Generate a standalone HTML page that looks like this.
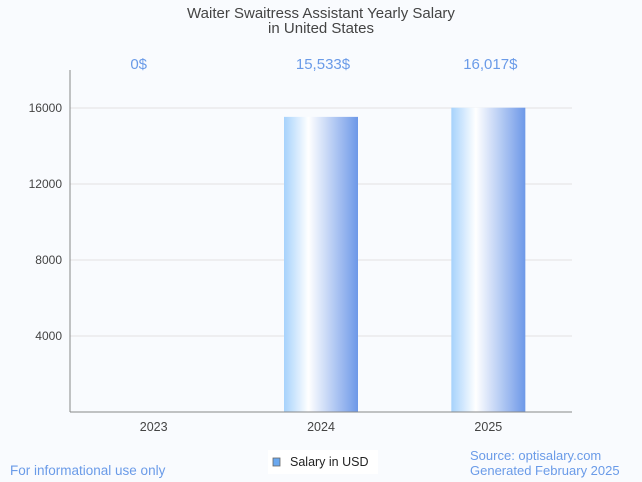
<!DOCTYPE html>
<html><head><meta charset="utf-8"><style>
body{margin:0;background:#f9fbfe;font-family:"Liberation Sans",sans-serif}
svg{display:block}
</style></head><body>
<svg id="c" width="642" height="482">
<defs><linearGradient id="g" x1="0" x2="1" y1="0" y2="0">
<stop offset="0" stop-color="#a6d2fc"/><stop offset="0.33" stop-color="#ffffff"/><stop offset="1" stop-color="#6d98e8"/>
</linearGradient></defs>
<text x="321" y="18" text-anchor="middle" font-size="15" fill="#444">Waiter Swaitress Assistant Yearly Salary</text>
<text x="321" y="33" text-anchor="middle" font-size="15" fill="#444">in United States</text>
<g id="grid"></g><g id="bars"></g>
<line x1="70" y1="70" x2="70" y2="412" stroke="#888"/>
<line x1="70" y1="412" x2="572" y2="412" stroke="#888"/>
<rect x="268" y="450" width="110" height="24" fill="#fff"/>
<rect x="273" y="458" width="7" height="8" fill="#6aa8f0" stroke="#666" stroke-width="0.8"/>
<text x="290" y="466" font-size="12.5" fill="#222">Salary in USD</text>
<text x="10" y="475" font-size="13.5" fill="#6a9be8">For informational use only</text>
<text x="470" y="460" font-size="13" fill="#6a9be8">Source: optisalary.com</text>
<text x="470" y="475" font-size="13" fill="#6a9be8">Generated February 2025</text>
</svg>
<script>
const categories=["2023","2024","2025"];
const values=[0,15533,16017];
const valueLabels=["0$","15,533$","16,017$"];
const yTicks=[4000,8000,12000,16000];
const NS="http://www.w3.org/2000/svg";
const x0=70,x1=572,yBase=412,pxPer=76/4000;
const y=v=>yBase-v*pxPer;
const band=(x1-x0)/categories.length;
const xc=i=>x0+band*(i+0.5);
const grid=document.getElementById('grid'),bars=document.getElementById('bars');
function mk(t,a,p){const e=document.createElementNS(NS,t);for(const k in a)e.setAttribute(k,a[k]);p.appendChild(e);return e;}
yTicks.forEach(v=>{
 const l=mk('line',{x1:x0,x2:x1,y1:y(v),y2:y(v),stroke:'#e2e2e2'},grid);
 
 
 const t=mk('text',{x:62,y:y(v)+4,'text-anchor':'end','font-size':12,fill:'#444'},grid);
 t.textContent=v;
 
 
});
categories.forEach((c,i)=>{
 const bw=74;
 if(values[i]>0){
  const r=mk('rect',{x:xc(i)-bw/2,y:y(values[i]),width:bw,height:yBase-y(values[i]),fill:'url(#g)'},bars);
  
  
 }
 const t=mk('text',{x:xc(i),y:431,'text-anchor':'middle','font-size':12.5,fill:'#444'},bars);
 t.textContent=c;
 
 
 const v=mk('text',{x:i==0?xc(i)-15:xc(i)+2,y:69,'text-anchor':'middle','font-size':15,fill:'#6a9be8'},bars);
 v.textContent=valueLabels[i];
 
 
});
</script>
</body></html>
